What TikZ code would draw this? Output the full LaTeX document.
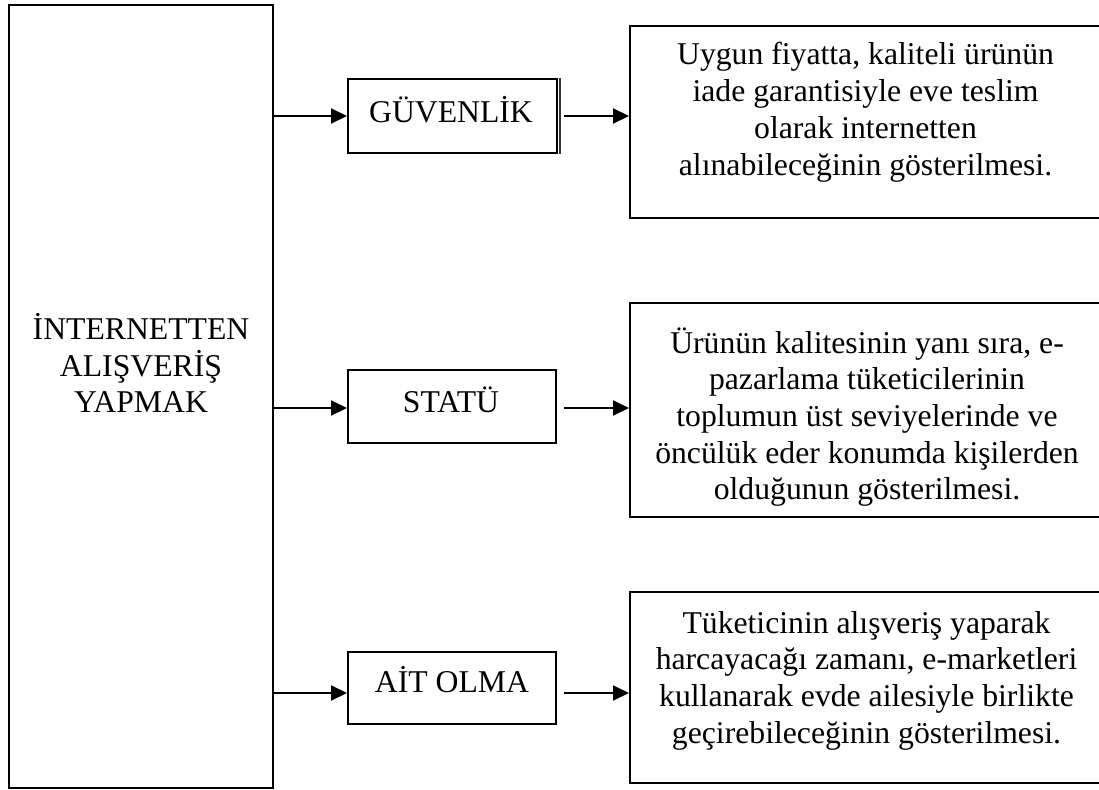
\documentclass[tikz,border=0pt]{standalone}
\usepackage{fontspec}
\setmainfont{Liberation Serif}
\usetikzlibrary{arrows.meta}
\begin{document}
\begin{tikzpicture}[x=1pt,y=-1pt,
  box/.style={draw, line width=2pt, inner sep=0pt, rectangle},
  label/.style={anchor=base, inner sep=0pt, font=\fontsize{31.7}{36.7}\selectfont},
  arr/.style={line width=2pt, -{Triangle[length=16pt,width=15pt]}}]
  \useasboundingbox (0,0) rectangle (1099,789);
  \clip (0,0) rectangle (1099,789);
  \fill[white] (0,0) rectangle (1099,789);

  % main box on the left
  \node[box, minimum width=264pt, minimum height=782pt] (L) at (141,396.5) {};
  \node[label] (Lt) at (141,339) {\begin{tabular}[t]{@{}c@{}}İNTERNETTEN\\ALIŞVERİŞ\\YAPMAK\end{tabular}};

  % middle boxes
  \node[box, minimum width=209pt, minimum height=74pt] (G) at (452.5,116) {};
  \node[label] (Gt) at (451,122) {GÜVENLİK};
  % heavier right edge of the first box
  \draw[line width=2pt, black!80] ([xshift=2pt]G.north east) -- ([xshift=2pt]G.south east);

  \node[box, minimum width=208pt, minimum height=73pt] (S) at (452,406.5) {};
  \node[label] (St) at (451,412) {STATÜ};

  \node[box, minimum width=208pt, minimum height=72pt] (A) at (452,688) {};
  \node[label] (At) at (452,692) {AİT OLMA};

  % description boxes on the right
  \node[box, minimum width=472pt, minimum height=192pt] (R1) at (866,122) {};
  \node[label] (R1t) at (865.5,65) {\begin{tabular}[t]{@{}c@{}}Uygun fiyatta, kaliteli ürünün\\iade garantisiyle eve teslim\\olarak internetten\\alınabileceğinin gösterilmesi.\end{tabular}};

  \node[box, minimum width=472pt, minimum height=214pt] (R2) at (866,410) {};
  \node[label] (R2t) at (867,353) {\begin{tabular}[t]{@{}c@{}}Ürünün kalitesinin yanı sıra, e-\\pazarlama tüketicilerinin\\toplumun üst seviyelerinde ve\\öncülük eder konumda kişilerden\\olduğunun gösterilmesi.\end{tabular}};

  \node[box, minimum width=472pt, minimum height=191pt] (R3) at (866,687.5) {};
  \node[label] (R3t) at (866.5,633) {\begin{tabular}[t]{@{}c@{}}Tüketicinin alışveriş yaparak\\harcayacağı zamanı, e-marketleri\\kullanarak evde ailesiyle birlikte\\geçirebileceğinin gösterilmesi.\end{tabular}};

  % connector rows
  \coordinate (y1) at (0,116);
  \coordinate (y2) at (0,408);
  \coordinate (y3) at (0,693);

  \draw[arr] (L.east |- y1) -- (G.west |- y1);
  \draw[arr] (L.east |- y2) -- (S.west |- y2);
  \draw[arr] (L.east |- y3) -- (A.west |- y3);

  \draw[arr] ([xshift=6pt]G.east |- y1) -- (R1.west |- y1);
  \draw[arr] ([xshift=7pt]S.east |- y2) -- (R2.west |- y2);
  \draw[arr] ([xshift=7pt]A.east |- y3) -- (R3.west |- y3);
\end{tikzpicture}
\end{document}
